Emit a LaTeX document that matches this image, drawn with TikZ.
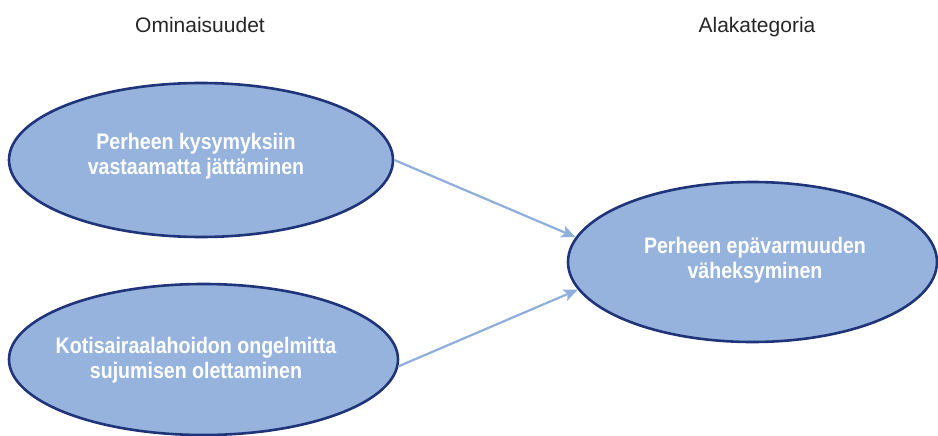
\documentclass[tikz,border=0pt]{standalone}
\usepackage{fontspec}
\setmainfont{Liberation Sans}
\newfontfamily\narrowbold[FakeStretch=0.87]{Liberation Sans Bold}
\usetikzlibrary{shapes.geometric,arrows.meta}

\definecolor{bubblefill}{HTML}{95B3DC}
\definecolor{bubbleline}{HTML}{1F3479}
\definecolor{linkblue}{HTML}{8EAEDC}
\definecolor{headgray}{HTML}{262626}

\tikzset{
  bubble/.style={ellipse, draw=bubbleline, line width=2.6pt, fill=bubblefill, inner sep=0pt},
  bubbletext/.style={text=white, align=center, inner sep=0pt,
    font=\narrowbold\fontsize{22.5}{25.5}\selectfont},
  heading/.style={text=headgray, anchor=base, inner sep=0pt,
    font=\fontsize{21}{25}\selectfont},
  link/.style={draw=linkblue, line width=2.2pt,
    -{Stealth[length=14pt, width=12pt, inset=3pt]}}
}

\begin{document}
\begin{tikzpicture}[x=1pt, y=-1pt]
  \useasboundingbox (0,0) rectangle (938,436);

  % column headings
  \node[heading] (hleft)  at (200,33) {Ominaisuudet};
  \node[heading] (hright) at (757,33) {Alakategoria};

  % property bubbles
  \node[bubble, minimum width=384pt, minimum height=154pt] (p1) at (201,160) {};
  \node[bubbletext] (p1t) at (196,156) {Perheen kysymyksiin\\vastaamatta jättäminen};

  \node[bubble, minimum width=389pt, minimum height=151pt] (p2) at (203.5,359.5) {};
  \node[bubbletext] (p2t) at (196,360) {Kotisairaalahoidon ongelmitta\\sujumisen olettaminen};

  % subcategory bubble
  \node[bubble, minimum width=369pt, minimum height=160pt] (sub) at (752.5,262) {};
  \node[bubbletext] (subt) at (755,260) {Perheen epävarmuuden\\väheksyminen};

  % links
  \draw[link] (p1.0) -- (sub.172.3);
  \draw[link] (p2.-2.4) -- (sub.189.6);
\end{tikzpicture}
\end{document}
